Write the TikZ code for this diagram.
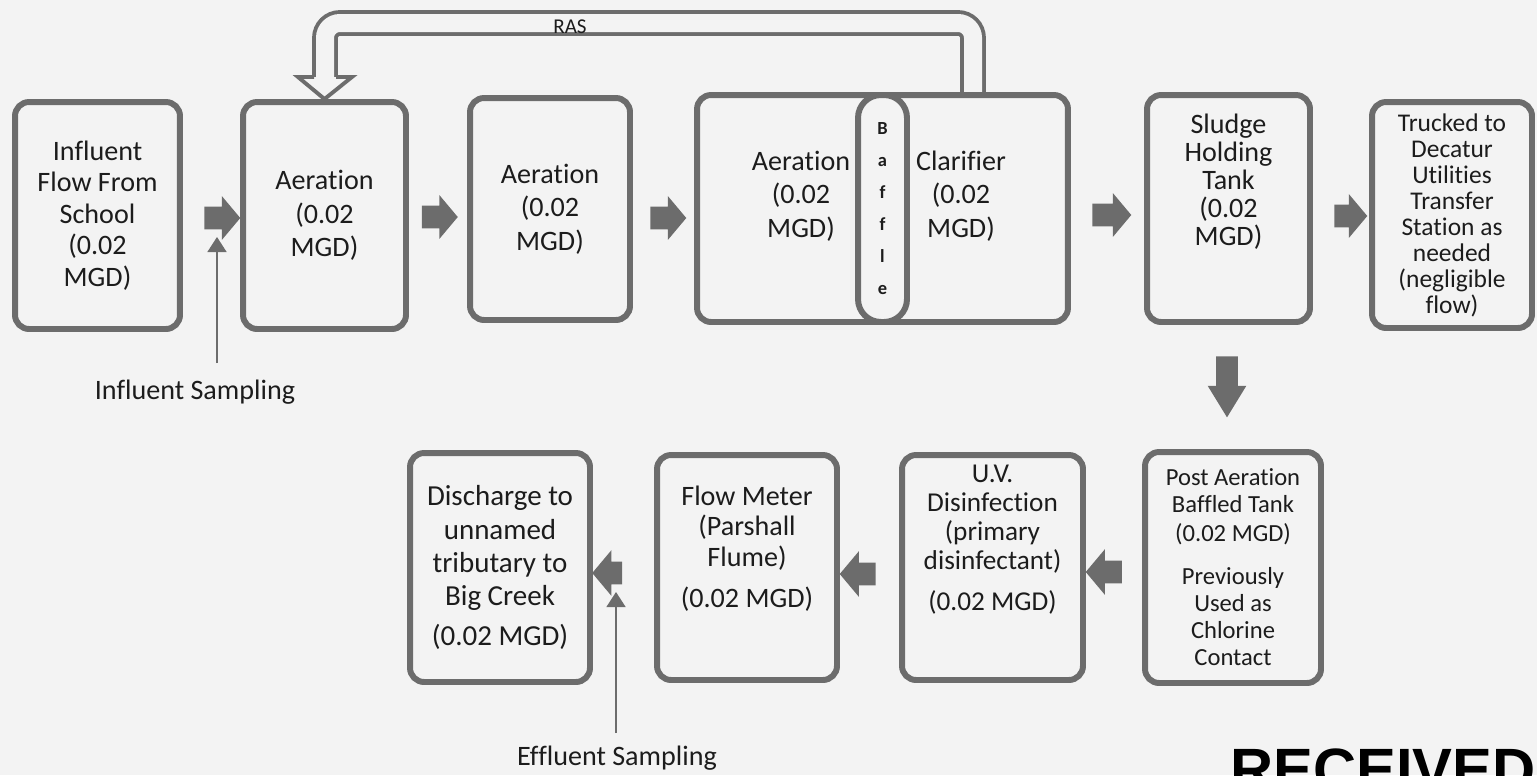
\documentclass[tikz,border=0pt]{standalone}
\usepackage{fontspec}
\setmainfont{Carlito}[Ligatures=NoCommon]
\newfontfamily\stampfont{Liberation Sans}
\usetikzlibrary{shapes.arrows,arrows.meta,calc}

\definecolor{boxgray}{RGB}{108,108,108}
\definecolor{paper}{RGB}{243,243,243}
\definecolor{ink}{RGB}{28,28,28}

\tikzset{
  tank/.style={draw=boxgray, line width=3.4pt, rounded corners=8pt, fill=paper,
    align=center, inner sep=0pt, text=ink, font=\fontsize{16}{19}\selectfont},
  boxtext/.style={align=center, inner sep=0pt, text=ink, font=\fontsize{16}{19}\selectfont},
  flowright/.style={single arrow, fill=boxgray, inner xsep=0pt, inner ysep=0.22cm,
    minimum height=0.72cm, single arrow head extend=0.21cm, single arrow tip angle=100},
  flowleft/.style={flowright, shape border rotate=180, single arrow head extend=0.23cm},
  sample/.style={draw=boxgray, line width=0.8pt, -{Triangle[length=0.3cm,width=0.38cm]}},
  samplelbl/.style={inner sep=0pt, text=ink, font=\fontsize{16}{19}\selectfont},
  ras/.style={draw=boxgray, line width=2.2pt, double=paper, double distance=0.36cm,
    rounded corners=8.5pt},
  rashead/.style={draw=boxgray, fill=paper, line width=2.2pt},
}

\begin{document}
\begin{tikzpicture}[x=0.02cm,y=-0.02cm]
\useasboundingbox (0,0) rectangle (1537,775);
\clip (0,0) rectangle (1537,775);
\fill[paper] (0,0) rectangle (1537,775);

\coordinate (rasfoot) at (973,96);
\coordinate (rasbase) at (325,77);
\draw[ras] (rasfoot) |- (325,23) -- (rasbase);
\node[inner sep=0pt, text=ink, font=\fontsize{12}{14}\selectfont] (raslbl) at (570,27) {RAS};

\node[tank, minimum width=3.3cm, minimum height=4.54cm, font=\fontsize{16}{18}\selectfont] (infl) at (97.5,215.5) {Influent\\Flow From\\School\\(0.02\\MGD)};
\node[tank, minimum width=3.26cm, minimum height=4.54cm] (aer1) at (324.5,215.5) {Aeration\\(0.02\\MGD)};
\node[tank, minimum width=3.2cm, minimum height=4.44cm] (aer2) at (550,209) {Aeration\\(0.02\\MGD)};
\node[tank, minimum width=7.42cm, minimum height=4.54cm] (combo) at (882.5,208.5) {};
\node[tank, minimum width=0.98cm, minimum height=4.54cm, rounded corners=13pt, font=\bfseries\fontsize{10.5}{18.2}\selectfont] (baffle) at (882.5,208.5) {B\\a\\f\\f\\l\\e};
\node[boxtext] (aer3) at (801,196) {Aeration\\(0.02\\MGD)};
\node[boxtext] (clar) at (961,196) {Clarifier\\(0.02\\MGD)};
\node[tank, minimum width=3.26cm, minimum height=4.54cm] (sludge) at (1228.5,208.5) {};
\node[boxtext, font=\fontsize{16}{16}\selectfont] (sludgetxt) at ($(sludge)+(0,-27)$) {Sludge\\Holding\\Tank\\(0.02\\MGD)};
\node[tank, minimum width=3.2cm, minimum height=4.52cm, font=\fontsize{14.5}{14.8}\selectfont] (truck) at (1452,215) {Trucked to\\Decatur\\Utilities\\Transfer\\Station as\\needed\\(negligible\\flow)};

\filldraw[rashead] ($(rasbase)+(-11,0)$) -- ++(-16,0) -- (aer1.north) -- ($(rasbase)+(27,0)$) -- ++(-16,0);

\node[flowright] (f12) at (217.5,218) {};
\node[flowright] (f23) at (435,217) {};
\node[flowright] (f34) at (663.5,218) {};
\node[flowright, minimum height=0.78cm] (f45) at (1107,215) {};
\node[flowright, minimum height=0.66cm] (f56) at (1346,216) {};
\node[flowright, shape border rotate=270, inner sep=0.21cm, minimum height=1.22cm,
  single arrow head extend=0.17cm, single arrow tip angle=63] (f5p) at (1227,378) {};

\node[tank, minimum width=3.52cm, minimum height=4.62cm, font=\fontsize{14}{15.4}\selectfont] (post) at (1233,567.5) {Post Aeration\\Baffled Tank\\[1pt](0.02 MGD)\\[9pt]Previously\\Used as\\Chlorine\\Contact};
\node[tank, minimum width=3.62cm, minimum height=4.5cm] (uv) at (992.5,567.5) {};
\node[boxtext, font=\fontsize{15.5}{16.5}\selectfont] (uvtxt) at ($(uv)+(0,-28)$) {U.V.\\Disinfection\\(primary\\disinfectant)\\[7pt](0.02 MGD)};
\node[tank, minimum width=3.6cm, minimum height=4.5cm] (flow) at (747,567.5) {};
\node[boxtext, font=\fontsize{16}{17.4}\selectfont] (flowtxt) at ($(flow)+(0,-19)$) {Flow Meter\\(Parshall\\Flume)\\[6pt](0.02 MGD)};
\node[tank, minimum width=3.6cm, minimum height=4.58cm, font=\fontsize{16.5}{18.8}\selectfont] (dis) at (500,567.5) {Discharge to\\unnamed\\tributary to\\Big Creek\\[4pt](0.02 MGD)};

\node[flowleft] (fpu) at (1108.5,572) {};
\node[flowleft] (fuf) at (862.5,574) {};
\node[flowleft, minimum height=0.6cm] (ffd) at (612,573) {};

\node[samplelbl] (infllbl) at (195,392) {Influent Sampling};
\coordinate (inflfoot) at (217,363);
\draw[sample] (inflfoot) -- ($(f12)+(-0.5,19)$);
\node[samplelbl] (efflbl) at (617,758) {Effluent Sampling};
\coordinate (efffoot) at (616,733);
\draw[sample] (efffoot) -- ($(ffd)+(4,19)$);

\node[anchor=base west, inner sep=0pt, text=black, font=\stampfont\bfseries\fontsize{34}{40}\selectfont] (stamp) at (1230,790) {RECEIVED};
\end{tikzpicture}
\end{document}
